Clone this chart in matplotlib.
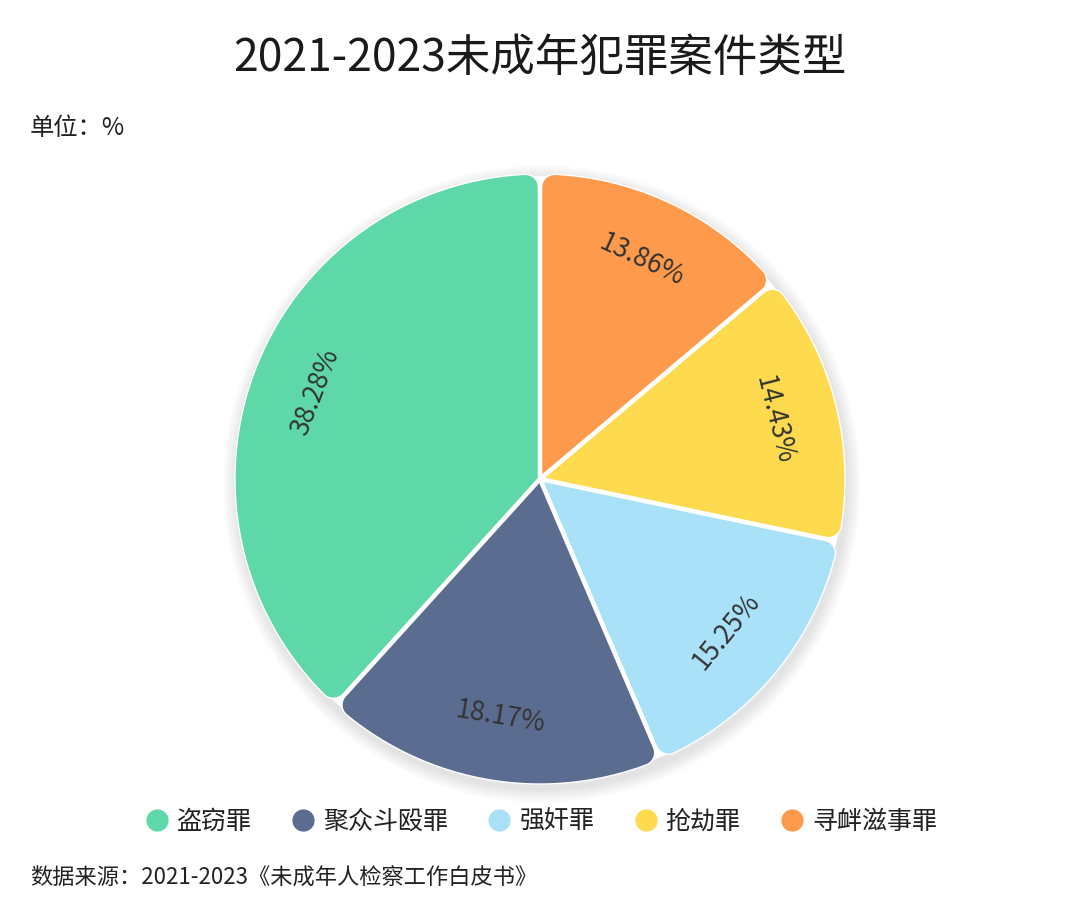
import numpy as np
import matplotlib
matplotlib.use("Agg")
import matplotlib.pyplot as plt
from matplotlib.patches import Polygon, Circle
from matplotlib.lines import Line2D

plt.rcParams['font.family'] = ['Noto Sans CJK SC', 'DejaVu Sans']

categories = ['盗窃罪', '聚众斗殴罪', '强奸罪', '抢劫罪', '寻衅滋事罪']
values = [38.28, 18.17, 15.25, 14.43, 13.86]
colors = ['#5ED8A9', '#5B6C91', '#A9E1F9', '#FEDB4E', '#FE9A4C']
title = '2021-2023未成年犯罪案件类型'
unit_text = '单位：%'
source_text = '数据来源：2021-2023《未成年人检察工作白皮书》'

W, H = 1080, 918
fig = plt.figure(figsize=(W / 100, H / 100), dpi=100)
ax = fig.add_axes([0, 0, 1, 1])
ax.set_xlim(0, W)
ax.set_ylim(H, 0)
ax.set_aspect('equal')
ax.axis('off')

cx, cy, R = 540, 479, 305
rc = 13.0      # corner radius
h = 1.6        # half gap
TWO_PI = 2 * np.pi


def to_px(p):
    return (cx + p[0], cy - p[1])


def arc_pts(center, r, b0, b1, n):
    d = (b1 - b0) % TWO_PI
    return [center + r * np.array([np.cos(b), np.sin(b)]) for b in np.linspace(b0, b0 + d, n)]


def rounded_wedge(a1, a2):
    t1, t2 = np.radians(a1), np.radians(a2)
    u1 = np.array([np.cos(t1), np.sin(t1)]); n1 = np.array([-np.sin(t1), np.cos(t1)])
    u2 = np.array([np.cos(t2), np.sin(t2)]); n2 = np.array([-np.sin(t2), np.cos(t2)])
    sc = np.sqrt((R - rc) ** 2 - (h + rc) ** 2)
    c1 = sc * u1 + (h + rc) * n1
    c2 = sc * u2 - (h + rc) * n2
    th = t2 - t1
    bis = (t1 + t2) / 2
    apex = (h / np.sin(th / 2)) * np.array([np.cos(bis), np.sin(bis)])
    ang_c1 = np.arctan2(c1[1], c1[0])
    ang_c2 = np.arctan2(c2[1], c2[0])
    pts = [apex, sc * u1 + h * n1]
    pts += arc_pts(c1, rc, t1 - np.pi / 2, ang_c1, 20)
    pts += arc_pts(np.zeros(2), R, ang_c1, ang_c2, 240)
    pts += arc_pts(c2, rc, ang_c2, t2 + np.pi / 2, 20)
    pts.append(sc * u2 - h * n2)
    return [to_px(p) for p in pts]


# soft shadow
for i in range(14):
    ax.add_patch(Circle((cx + 2, cy + 5), R + 14 - i, color='#000000', alpha=0.006, lw=0, zorder=1))
ax.add_patch(Circle((cx, cy), R - 2, color='white', lw=0, zorder=1.5))

total = sum(values)
start = 90.0
for v, col in zip(values, colors):
    sweep = 360.0 * v / total
    a1, a2 = start, start + sweep
    ax.add_patch(Polygon(rounded_wedge(a1, a2), closed=True, facecolor=col,
                         edgecolor='white', lw=1.0, zorder=2))
    mid = (a1 + a2) / 2
    mid_n = ((mid + 180) % 360) - 180
    rot = mid_n - 90 if mid_n >= 0 else mid_n + 90
    rl = 0.79 * R
    lx, ly = to_px((rl * np.cos(np.radians(mid)), rl * np.sin(np.radians(mid))))
    ax.text(lx, ly, f'{v:.2f}%', rotation=rot, rotation_mode='anchor',
            ha='center', va='center', fontsize=19, color='#333333', zorder=3)
    start = a2

fig.text(540 / W, 1 - 58 / H, title, ha='center', va='center', fontsize=32,
         color='#1a1a1a', fontweight='normal')
fig.text(30 / W, 1 - 128 / H, unit_text, ha='left', va='center', fontsize=17.5, color='#222222')
fig.text(30 / W, 1 - 878 / H, source_text, ha='left', va='center', fontsize=16, color='#222222')

handles = [Line2D([], [], marker='o', linestyle='none', markersize=15,
                  markerfacecolor=c, markeredgecolor=c) for c in colors]
leg = fig.legend(handles, categories, loc='center', bbox_to_anchor=(540 / W, 1 - 822 / H),
                 ncol=5, frameon=False, fontsize=18, handletextpad=0.25,
                 columnspacing=1.5, handlelength=1.1, labelcolor='#222222')

fig.savefig('out.png', dpi=100, facecolor='white')
